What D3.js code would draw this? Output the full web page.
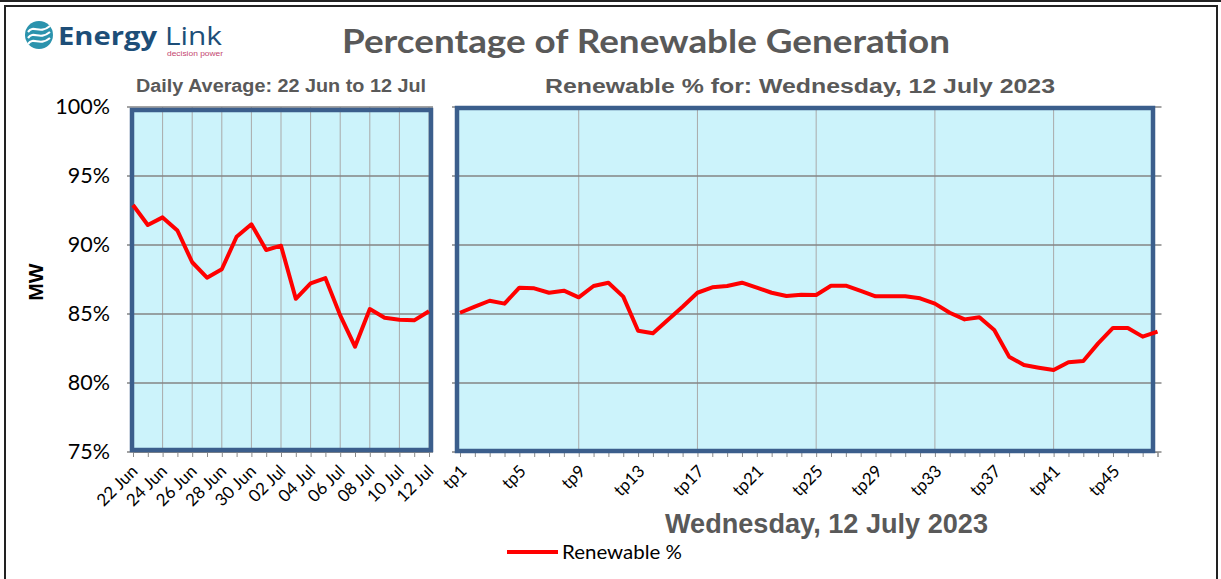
<!DOCTYPE html>
<meta charset="utf-8">
<script src="https://d3js.org/d3.v7.min.js"></script>
<style>
  body { margin: 0; background: #fff; }
  text { font-family: "Liberation Sans", Arial, sans-serif; }
</style>
<div id="my_dataviz"></div>
<script>
  // daily average panel
  var days = ["22 Jun", "23 Jun", "24 Jun", "25 Jun", "26 Jun", "27 Jun", "28 Jun", "29 Jun", "30 Jun",
    "01 Jul", "02 Jul", "03 Jul", "04 Jul", "05 Jul", "06 Jul", "07 Jul", "08 Jul", "09 Jul", "10 Jul", "11 Jul", "12 Jul"];
  var dailyPct = [92.9, 91.45, 92.0, 91.05, 88.75, 87.63, 88.24, 90.6, 91.5,
    89.64, 89.95, 86.1, 87.22, 87.6, 84.9, 82.63, 85.36, 84.73, 84.59, 84.54, 85.2];

  // trading periods panel
  var periods = d3.range(1, 49).map(function(i) { return "tp" + i; });
  var tpPct = [85.09, 85.53, 85.96, 85.75, 86.91, 86.86, 86.54, 86.69, 86.21, 87.03,
    87.27, 86.26, 83.79, 83.6, 84.57, 85.53, 86.54, 86.93, 87.03, 87.27,
    86.91, 86.54, 86.3, 86.4, 86.38, 87.05, 87.05, 86.67, 86.28, 86.28,
    86.28, 86.14, 85.75, 85.09, 84.61, 84.76, 83.84, 81.91, 81.3, 81.11,
    80.94, 81.5, 81.59, 82.87, 83.99, 83.99, 83.36, 83.72];

  var yTicks = [75, 80, 85, 90, 95, 100];

  var svg = d3.select("#my_dataviz")
    .append("svg")
    .attr("width", 1221)
    .attr("height", 579);

  // outer frame
  svg.append("line").attr("x1", 0).attr("x2", 1221).attr("y1", 1).attr("y2", 1)
    .style("stroke", "#222").style("stroke-width", 2);
  svg.append("rect").attr("x", 5).attr("y", 6).attr("width", 1212).attr("height", 600)
    .style("fill", "none").style("stroke", "#222").style("stroke-width", 2);

  // logo
  var logo = svg.append("g").attr("transform", "translate(39,35)");
  logo.append("circle").attr("r", 14).style("fill", "#2b93ad");
  [-6, 0, 6].forEach(function(dy) {
    logo.append("path")
      .attr("d", "M-11," + (dy + 3) + " C-5," + (dy - 5) + " 0," + (dy + 6) + " 11," + (dy - 3))
      .style("fill", "none").style("stroke", "#fff").style("stroke-width", 2.2);
  });
  svg.append("text").attr("x", 58).attr("y", 45)
    .attr("textLength", 99).attr("lengthAdjust", "spacingAndGlyphs")
    .style("font-family", "'Open Sans', sans-serif")
    .style("font-size", "25px").style("font-weight", "bold").style("fill", "#1d4e78")
    .text("Energy");
  svg.append("text").attr("x", 165).attr("y", 45)
    .attr("textLength", 57).attr("lengthAdjust", "spacingAndGlyphs")
    .style("font-family", "'Open Sans', sans-serif")
    .style("font-size", "25px").style("fill", "#1d4e78")
    .text("Link");
  svg.append("text").attr("x", 167).attr("y", 56)
    .attr("textLength", 56).attr("lengthAdjust", "spacingAndGlyphs")
    .style("font-size", "7px").style("fill", "#c4466f")
    .text("decision power");

  // titles
  svg.append("text").attr("x", 342).attr("y", 53)
    .attr("textLength", 608).attr("lengthAdjust", "spacingAndGlyphs")
    .style("font-family", "Lato, sans-serif")
    .style("font-size", "33px").style("font-weight", "bold").style("fill", "#595959")
    .text("Percentage of Renewable Generation");
  svg.append("text").attr("x", 136).attr("y", 92)
    .attr("textLength", 290).attr("lengthAdjust", "spacingAndGlyphs")
    .style("font-size", "17.5px").style("font-weight", "bold").style("fill", "#595959")
    .text("Daily Average: 22 Jun to 12 Jul");
  svg.append("text").attr("x", 545).attr("y", 93)
    .attr("textLength", 510).attr("lengthAdjust", "spacingAndGlyphs")
    .style("font-size", "20px").style("font-weight", "bold").style("fill", "#595959")
    .text("Renewable % for: Wednesday, 12 July 2023");

  var y = d3.scaleLinear().domain([75, 100]).range([452, 107]);

  function panel(cats, vals, x0, x1, box, labelEvery, gridEvery, labelDx) {
    var x = d3.scalePoint().domain(cats).range([x0, x1]);
    var g = svg.append("g");

    g.append("rect")
      .attr("x", box[0]).attr("y", box[1])
      .attr("width", box[2] - box[0]).attr("height", box[3] - box[1])
      .style("fill", "#ccf3fb");

    // vertical gridlines
    g.selectAll(".vg")
      .data(cats.filter(function(d, i) { return i % gridEvery == 0 && i > 0; }))
      .enter().append("line")
      .attr("x1", function(d) { return x(d); }).attr("x2", function(d) { return x(d); })
      .attr("y1", 107).attr("y2", 452)
      .style("stroke", "#a9a9a9").style("stroke-width", 1);

    // horizontal gridlines
    g.selectAll(".hg")
      .data(yTicks)
      .enter().append("line")
      .attr("x1", box[0] - 5).attr("x2", x1 + 4)
      .attr("y1", function(d) { return y(d); }).attr("y2", function(d) { return y(d); })
      .style("stroke", "#858585").style("stroke-width", 1.5);

    // bottom axis
    var ax = g.append("g")
      .attr("transform", "translate(0,452)")
      .call(d3.axisBottom(x).tickSize(5).tickFormat(function(d, i) {
        return i % labelEvery == 0 ? d : "";
      }));
    ax.select(".domain").style("stroke", "#8a8a8a");
    ax.selectAll(".tick line").style("stroke", "#8a8a8a");
    ax.selectAll("text")
      .style("font-family", "Lato, 'Open Sans', sans-serif")
      .style("font-size", "17px").style("fill", "#000")
      .attr("text-anchor", "end")
      .attr("dy", "0.35em")
      .attr("y", 0).attr("x", 0)
      .attr("transform", "translate(" + labelDx + ",16) rotate(-45)");

    // border
    g.append("rect")
      .attr("x", box[0]).attr("y", box[1])
      .attr("width", box[2] - box[0]).attr("height", box[3] - box[1])
      .style("fill", "none").style("stroke", "#3b5e8c").style("stroke-width", 4.5);

    var line = d3.line()
      .x(function(d, i) { return x(cats[i]); })
      .y(function(d) { return y(d); });
    g.append("path")
      .datum(vals)
      .attr("d", line)
      .style("fill", "none").style("stroke", "#ff0000").style("stroke-width", 4)
      .style("stroke-linejoin", "round");
  }

  panel(days, dailyPct, 133, 429, [132, 110, 431, 450], 2, 2, 1);
  panel(periods, tpPct, 460, 1157.5, [457, 108, 1153, 451], 4, 8, 3);

  // y axis labels
  var yax = svg.append("g")
    .attr("transform", "translate(126,0)")
    .call(d3.axisLeft(y).tickValues(yTicks).tickSize(0).tickPadding(16)
      .tickFormat(function(d) { return d + "%"; }));
  yax.select(".domain").remove();
  yax.selectAll("text")
    .style("font-family", "Lato, 'Open Sans', sans-serif")
    .style("font-size", "21.5px").style("fill", "#000");

  svg.append("text")
    .attr("transform", "translate(43,282) rotate(-90)")
    .attr("text-anchor", "middle")
    .style("font-size", "21px").style("font-weight", "bold").style("fill", "#000")
    .text("MW");

  svg.append("text").attr("x", 665).attr("y", 533)
    .attr("textLength", 323).attr("lengthAdjust", "spacingAndGlyphs")
    .style("font-size", "27.5px").style("font-weight", "bold").style("fill", "#595959")
    .text("Wednesday, 12 July 2023");

  // legend
  svg.append("line").attr("x1", 507).attr("x2", 558).attr("y1", 552).attr("y2", 552)
    .style("stroke", "#ff0000").style("stroke-width", 4);
  svg.append("text").attr("x", 562).attr("y", 559)
    .attr("textLength", 120).attr("lengthAdjust", "spacingAndGlyphs")
    .style("font-family", "Lato, 'Open Sans', sans-serif")
    .style("font-size", "20px").style("fill", "#000")
    .text("Renewable %");
</script>
